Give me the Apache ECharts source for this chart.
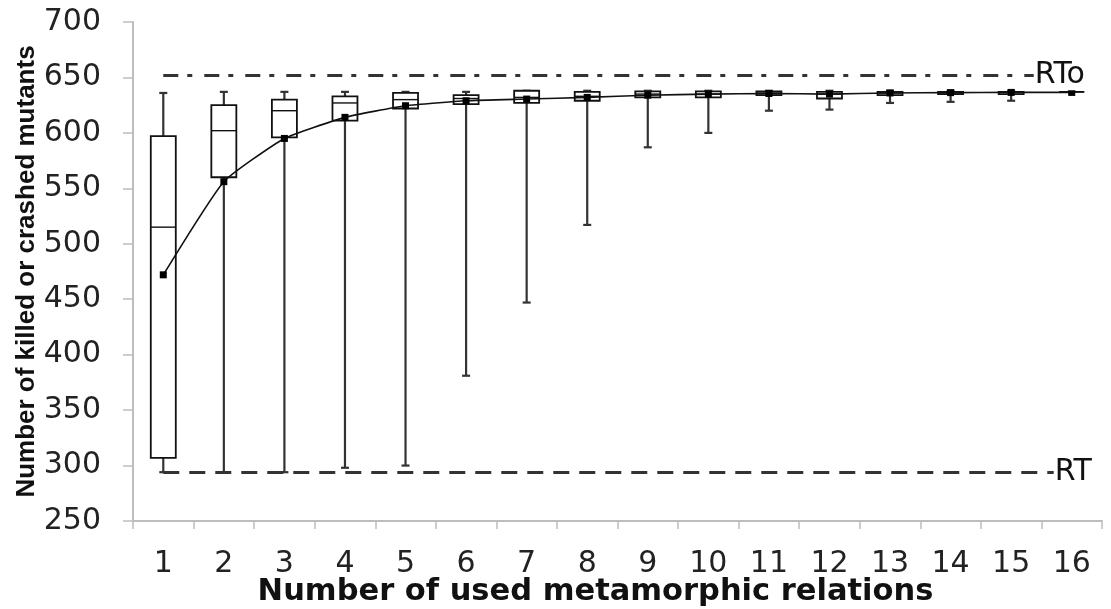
<!DOCTYPE html>
<html>
<head>
<meta charset="utf-8">
<script src="https://cdn.jsdelivr.net/npm/echarts@6/dist/echarts.min.js"></script>
<style>
html,body{margin:0;padding:0;background:#fff;}
#chart{width:1111px;height:609px;}
</style>
</head>
<body>
<div id="chart"></div>
<script>
const categories = ['1','2','3','4','5','6','7','8','9','10','11','12','13','14','15','16'];
const minValues    = [294, 294, 294, 298, 300, 381, 447, 517, 587, 600, 620, 621, 627, 628, 629, 637];
const q1Values     = [307, 560, 596, 611, 622, 626, 627, 629, 632, 632, 634, 631, 634, 635, 635, 637];
const medianValues = [515, 602, 620, 627, 630, 631, 632, 633, 635, 635, 636, 635, 636, 636, 636.5, 637];
const q3Values     = [597, 625, 630, 633, 636, 634, 638, 637, 637.5, 637.5, 637.5, 637, 637, 637, 637, 637];
const maxValues    = [636, 637, 637, 637, 637, 637, 638, 638, 638, 638, 638, 638, 638, 638, 638, 637];
const meanValues   = [472, 556, 595, 614, 624.5, 629, 630.5, 632, 634, 635, 635.5, 635, 636, 636.3, 636.5, 636.5];
const yTicks = [250, 700, 50];
const rtValue = 294;
const rtoValue = 652;

const boxData = categories.map((c, i) => [i, minValues[i], q1Values[i], medianValues[i], q3Values[i], maxValues[i]]);

const chart = echarts.init(document.getElementById('chart'));
const wide = "'DejaVu Sans', 'Liberation Sans', Arial, sans-serif";
const sans = "'Liberation Sans', Arial, sans-serif";

chart.setOption({
  animation: false,
  backgroundColor: '#fff',
  grid: {left: 133, right: 9, top: 22, bottom: 88, containLabel: false, outerBoundsMode: 'none'},
  xAxis: {
    type: 'category',
    data: categories,
    boundaryGap: true,
    name: 'Number of used metamorphic relations',
    nameLocation: 'middle',
    nameGap: 56,
    nameMoveOverlap: false,
    nameTextStyle: {fontFamily: wide, fontWeight: 'bold', fontSize: 30.5, color: '#111', padding: [0, 44, 0, 0], verticalAlign: 'top'},
    axisLine: {lineStyle: {color: '#bdbdbd', width: 2}},
    axisTick: {show: true, length: 8, lineStyle: {color: '#bdbdbd', width: 1.5}},
    axisLabel: {fontFamily: wide, fontSize: 30, color: '#222', margin: 28},
    splitLine: {show: false}
  },
  yAxis: {
    type: 'value',
    min: yTicks[0],
    max: yTicks[1],
    interval: yTicks[2],
    name: 'Number of killed or crashed mutants',
    nameLocation: 'middle',
    nameGap: 93,
    nameMoveOverlap: false,
    nameTextStyle: {fontFamily: sans, fontWeight: 'bold', fontSize: 26, color: '#111', verticalAlign: 'bottom'},
    axisLine: {show: true, lineStyle: {color: '#bdbdbd', width: 2}},
    axisTick: {show: true, length: 10, lineStyle: {color: '#bdbdbd', width: 1.5}},
    axisLabel: {fontFamily: wide, fontSize: 30, color: '#222', margin: 32},
    splitLine: {show: false}
  },
  series: [
    {
      type: 'custom',
      data: boxData,
      z: 2,
      renderItem: function (params, api) {
        const idx = api.value(0);
        const pMin = api.coord([idx, api.value(1)]);
        const pQ1 = api.coord([idx, api.value(2)]);
        const pMed = api.coord([idx, api.value(3)]);
        const pQ3 = api.coord([idx, api.value(4)]);
        const pMax = api.coord([idx, api.value(5)]);
        const x = pMin[0];
        const bw = 25, cw = 8;
        const wStyle = {stroke: '#333', lineWidth: 2.2};
        const bStyle = {stroke: '#111', lineWidth: 1.8, fill: '#fff'};
        return {
          type: 'group',
          children: [
            {type: 'line', shape: {x1: x, y1: pMax[1], x2: x, y2: pQ3[1]}, style: wStyle},
            {type: 'line', shape: {x1: x, y1: pQ1[1], x2: x, y2: pMin[1]}, style: wStyle},
            {type: 'line', shape: {x1: x - cw / 2, y1: pMax[1], x2: x + cw / 2, y2: pMax[1]}, style: wStyle},
            {type: 'line', shape: {x1: x - cw / 2, y1: pMin[1], x2: x + cw / 2, y2: pMin[1]}, style: wStyle},
            {type: 'rect', shape: {x: x - bw / 2, y: pQ3[1], width: bw, height: pQ1[1] - pQ3[1]}, style: bStyle},
            {type: 'line', shape: {x1: x - bw / 2, y1: pMed[1], x2: x + bw / 2, y2: pMed[1]}, style: {stroke: '#111', lineWidth: 1.4}}
          ]
        };
      }
    },
    {
      type: 'line',
      data: meanValues,
      z: 3,
      smooth: 0.15,
      symbol: 'rect',
      symbolSize: 7,
      itemStyle: {color: '#000'},
      lineStyle: {color: '#111', width: 1.6},
      markLine: {
        silent: true,
        symbol: 'none',
        animation: false,
        data: [
          [
            {coord: [0, rtoValue], lineStyle: {type: [15, 9, 5, 12], color: '#333', width: 3},
             label: {show: true, position: 'end', formatter: 'RTo', fontFamily: wide, fontSize: 30, color: '#111', backgroundColor: '#fff', offset: [-43, 0], padding: [0, 0, 0, 1]}},
            {coord: [15, rtoValue]}
          ],
          [
            {coord: [0, rtValue], lineStyle: {type: [16, 10], color: '#333', width: 3},
             label: {show: true, position: 'end', formatter: 'RT', fontFamily: wide, fontSize: 30, color: '#111', backgroundColor: '#fff', offset: [-23, 0], padding: [0, 0, 0, 1]}},
            {coord: [15, rtValue]}
          ]
        ]
      }
    }
  ]
});
</script>
</body>
</html>
